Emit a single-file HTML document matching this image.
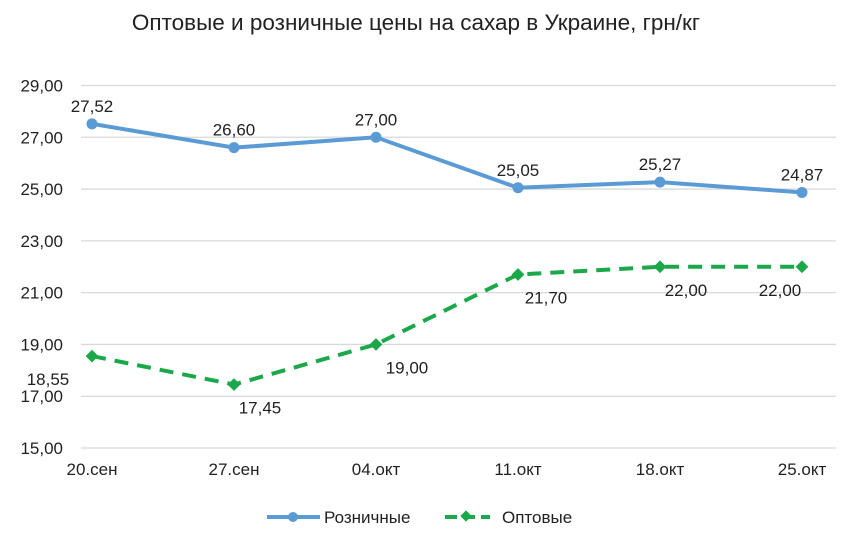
<!DOCTYPE html>
<html><head><meta charset="utf-8"><style>
body{margin:0;background:#fff;font-family:"Liberation Sans","DejaVu Sans",sans-serif;}
svg text{font-family:"Liberation Sans","DejaVu Sans",sans-serif;fill:#222;}
</style></head><body>
<svg width="857" height="534">
<text x="416" y="30" font-size="22.5" text-anchor="middle">Оптовые и розничные цены на сахар в Украине, грн/кг</text>
<g id="grid"></g><g id="xl"></g><g id="ser"></g>
<g>
<g><line x1="267" y1="517" x2="320" y2="517" stroke="#5b9bd5" stroke-width="4"/><circle cx="293" cy="517" r="5" fill="#5b9bd5"/><text x="324" y="523" font-size="17">Розничные</text></g>
<g><line x1="445" y1="517" x2="490" y2="517" stroke="#1aa84a" stroke-width="4" stroke-dasharray="12,6"/><rect x="462" y="512" width="8" height="8" fill="#1aa84a" transform="rotate(45 466 516)"/><text x="502" y="523" font-size="17">Оптовые</text></g>
</g>
</svg>
<script>
const categories=["20.сен","27.сен","04.окт","11.окт","18.окт","25.окт"];
const retail=[27.52,26.60,27.00,25.05,25.27,24.87];
const wholesale=[18.55,17.45,19.00,21.70,22.00,22.00];
const yTicks=[15,17,19,21,23,25,27,29];
const NS="http://www.w3.org/2000/svg";
const y=v=>448-(v-15)*(362.5/14);
const x=i=>92+i*142;
const fmt=v=>v.toFixed(2).replace('.',',');
function mk(t,a,p){const e=document.createElementNS(NS,t);for(const k in a)e.setAttribute(k,a[k]);p.appendChild(e);return e;}
const grid=document.getElementById('grid');
yTicks.forEach(v=>{
 const l=mk('line',{x1:81,x2:836,y1:y(v),y2:y(v),stroke:'#d9d9d9','stroke-width':1.3},grid);
 
 
 const t=mk('text',{x:63,y:y(v)+6,'font-size':17,'text-anchor':'end'},grid);t.textContent=fmt(v);
 
 
});
const xl=document.getElementById('xl');
categories.forEach((c,i)=>{const t=mk('text',{x:x(i),y:475,'font-size':17,'text-anchor':'middle'},xl);t.textContent=c;
 
 });
const ser=document.getElementById('ser');
const r=mk('polyline',{points:retail.map((v,i)=>x(i)+','+y(v)).join(' '),fill:'none',stroke:'#5b9bd5','stroke-width':4},ser);


const w=mk('polyline',{points:wholesale.map((v,i)=>x(i)+','+y(v)).join(' '),fill:'none',stroke:'#1aa84a','stroke-width':4,'stroke-dasharray':'14,9'},ser);


retail.forEach((v,i)=>{
 const c=mk('circle',{cx:x(i),cy:y(v),r:5.5,fill:'#5b9bd5'},ser);
 
 
 const t=mk('text',{x:x(i),y:y(v)-12,'font-size':17,'text-anchor':'middle'},ser);t.textContent=fmt(v);
 
 
});
const lblDx=[-44,26,31,28,26,-22];
wholesale.forEach((v,i)=>{
 const d=mk('rect',{x:x(i)-4.5,y:y(v)-4.5,width:9,height:9,fill:'#1aa84a',transform:`rotate(45 ${x(i)} ${y(v)})`},ser);
 
 
 const t=mk('text',{x:x(i)+lblDx[i],y:y(v)+29,'font-size':17,'text-anchor':'middle'},ser);t.textContent=fmt(v);
 
 
});
</script>
</body></html>
